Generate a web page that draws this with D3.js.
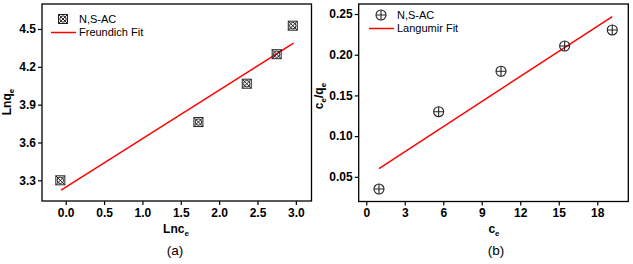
<!DOCTYPE html>
<html>
<head>
<meta charset="utf-8">
<script src="https://cdn.jsdelivr.net/npm/d3@7"></script>
<style>
  body { margin: 0; background: #fff; }
  text { font-family: "Liberation Sans", Arial, sans-serif; }
</style>
</head>
<body>
<div id="chart"></div>
<script>
// panel (a) - Freundlich
const lnCe = [-0.07, 1.73, 2.36, 2.75, 2.96];
const lnQe = [3.30, 3.762, 4.066, 4.30, 4.526];
const freundFitX = [-0.06, 2.97];
const freundFitY = [3.222, 4.387];
const aTicksX = [0.0, 0.5, 1.0, 1.5, 2.0, 2.5, 3.0];
const aTicksY = [3.3, 3.6, 3.9, 4.2, 4.5];

// panel (b) - Langmuir
const ce = [0.99, 5.64, 10.5, 15.46, 19.17];
const ceQe = [0.035, 0.130, 0.1797, 0.2107, 0.2304];
const langFitX = [0.99, 19.17];
const langFitY = [0.0602, 0.2469];
const bTicksX = [0, 3, 6, 9, 12, 15, 18];
const bTicksY = [0.05, 0.10, 0.15, 0.20, 0.25];

const W = 633, H = 264;
const svg = d3.select("#chart").append("svg")
    .attr("width", W).attr("height", H);

function panel(opt) {
    const x = d3.scaleLinear().domain(opt.xdom).range([opt.left, opt.right]);
    const y = d3.scaleLinear().domain(opt.ydom).range([opt.bottom, opt.top]);
    const g = svg.append("g");

    // axes
    g.append("g")
        .attr("transform", `translate(0,${opt.bottom})`)
        .call(d3.axisBottom(x).tickValues(opt.xticks).tickFormat(opt.xfmt).tickSize(4).tickSizeOuter(0))
        .call(a => a.select(".domain").remove())
        .call(a => a.selectAll("line").attr("stroke-width", 1.2))
        .call(a => a.selectAll("text").attr("y", 7)
            .style("font-size", "12px").style("font-weight", "bold").attr("fill", "#000"));
    g.append("g")
        .attr("transform", `translate(${opt.left},0)`)
        .call(d3.axisLeft(y).tickValues(opt.yticks).tickFormat(opt.yfmt).tickSize(4).tickSizeOuter(0))
        .call(a => a.select(".domain").remove())
        .call(a => a.selectAll("line").attr("stroke-width", 1.2))
        .call(a => a.selectAll("text").attr("x", -6)
            .style("font-size", "12px").style("font-weight", "bold").attr("fill", "#000"));

    // frame
    g.append("rect")
        .attr("x", opt.left).attr("y", opt.top)
        .attr("width", opt.right - opt.left).attr("height", opt.bottom - opt.top)
        .attr("fill", "none").attr("stroke", "#000").attr("stroke-width", 1.3);

    // fit line
    g.append("line")
        .attr("x1", x(opt.fitX[0])).attr("y1", y(opt.fitY[0]))
        .attr("x2", x(opt.fitX[1])).attr("y2", y(opt.fitY[1]))
        .attr("stroke", "#ff0000").attr("stroke-width", 1.5);

    // points
    const pts = opt.xs.map((v, i) => [v, opt.ys[i]]);
    g.selectAll(".pt").data(pts).join("g")
        .attr("transform", d => `translate(${x(d[0])},${y(d[1])})`)
        .each(function() { opt.marker(d3.select(this)); });

    // legend
    const lg = g.append("g").attr("transform", `translate(${opt.legX},${opt.legY})`);
    opt.marker(lg.append("g").attr("transform", "translate(12,0)"));
    lg.append("text").attr("x", 28).attr("y", 0).attr("dy", "0.35em")
        .style("font-size", "11px").text("N,S-AC");
    lg.append("line").attr("x1", 0).attr("x2", 25).attr("y1", 13.5).attr("y2", 13.5)
        .attr("stroke", "#ff0000").attr("stroke-width", 1.5);
    lg.append("text").attr("x", 28).attr("y", 13.5).attr("dy", "0.35em")
        .style("font-size", "11px").text(opt.fitName);

    // axis titles
    const xl = g.append("text")
        .attr("x", opt.xlabX).attr("y", 233)
        .attr("text-anchor", "middle")
        .style("font-size", "12px").style("font-weight", "bold");
    xl.append("tspan").text(opt.xlab);
    xl.append("tspan").attr("dy", 3).style("font-size", "8px").text("e");

    const yl = g.append("text")
        .attr("transform", `translate(${opt.ylabX},${opt.ylabY}) rotate(-90)`)
        .attr("text-anchor", "middle")
        .style("font-size", "12px").style("font-weight", "bold");
    opt.ylab.forEach(p => {
        const t = yl.append("tspan").text(p.t);
        if (p.sub) t.attr("dy", 3).style("font-size", "8px");
        else if (p.back) t.attr("dy", -3);
    });

    g.append("text")
        .attr("x", opt.capX).attr("y", 255)
        .attr("text-anchor", "middle")
        .style("font-size", "13.5px").text(opt.caption);
}

function markerA(sel) {
    sel.append("rect").attr("x", -4.5).attr("y", -4.5).attr("width", 9).attr("height", 9)
        .attr("fill", "none").attr("stroke", "#222").attr("stroke-width", 1);
    sel.append("circle").attr("r", 3.2).attr("fill", "none").attr("stroke", "#222").attr("stroke-width", 1);
    sel.append("path").attr("d", "M-4.5,-4.5L4.5,4.5M4.5,-4.5L-4.5,4.5")
        .attr("stroke", "#222").attr("stroke-width", 1);
}

function markerB(sel) {
    sel.append("circle").attr("r", 5).attr("fill", "none").attr("stroke", "#222").attr("stroke-width", 1.1);
    sel.append("path").attr("d", "M-5,0L5,0M0,-5L0,5")
        .attr("stroke", "#222").attr("stroke-width", 1.1);
}

panel({
    left: 42, right: 311.5, top: 4, bottom: 201,
    xdom: [-0.309, 3.204], ydom: [3.136, 4.698],
    xticks: aTicksX, yticks: aTicksY,
    xfmt: d3.format(".1f"), yfmt: d3.format(".1f"),
    xs: lnCe, ys: lnQe, fitX: freundFitX, fitY: freundFitY,
    marker: markerA, fitName: "Freundich Fit",
    legX: 51, legY: 19,
    xlab: "Lnc", xlabX: 176,
    ylab: [{t: "Lnq"}, {t: "e", sub: true}], ylabX: 11, ylabY: 102,
    caption: "(a)", capX: 175
});

panel({
    left: 358.7, right: 628.3, top: 4, bottom: 201.5,
    xdom: [-0.59, 20.42], ydom: [0.0197, 0.2623],
    xticks: bTicksX, yticks: bTicksY,
    xfmt: d3.format("d"), yfmt: d3.format(".2f"),
    xs: ce, ys: ceQe, fitX: langFitX, fitY: langFitY,
    marker: markerB, fitName: "Langumir Fit",
    legX: 369, legY: 15,
    xlab: "c", xlabX: 494,
    ylab: [{t: "c"}, {t: "e", sub: true}, {t: "/q", back: true}, {t: "e", sub: true}],
    ylabX: 323, ylabY: 96,
    caption: "(b)", capX: 496
});
</script>
</body>
</html>
